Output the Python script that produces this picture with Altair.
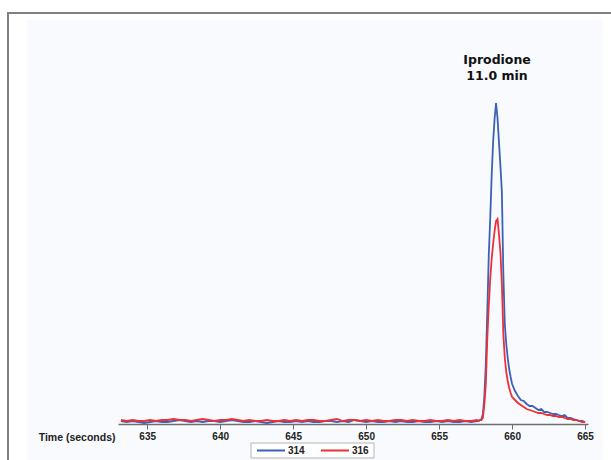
import altair as alt
import pandas as pd

# ---- data ----
time_s = [
    633.2, 633.6, 634.0, 634.4, 634.8, 635.2, 635.6, 636.0, 636.4, 636.8,
    637.2, 637.6, 638.0, 638.4, 638.8, 639.2, 639.6, 640.0, 640.4, 640.8,
    641.2, 641.6, 642.0, 642.4, 642.8, 643.2, 643.6, 644.0, 644.4, 644.8,
    645.2, 645.6, 646.0, 646.4, 646.8, 647.2, 647.6, 648.0, 648.4, 648.8,
    649.2, 649.6, 650.0, 650.4, 650.8, 651.2, 651.6, 652.0, 652.4, 652.8,
    653.2, 653.6, 654.0, 654.4, 654.8, 655.2, 655.6, 656.0, 656.4, 656.8,
    657.2, 657.6,
    657.7, 657.8, 657.9, 658.0, 658.1, 658.2, 658.3, 658.4, 658.5, 658.6,
    658.7, 658.8, 658.9, 659.0, 659.1, 659.2, 659.3, 659.4, 659.5, 659.6,
    659.7, 659.8, 659.9, 660.0,
    660.2, 660.4, 660.6, 660.8, 661.0, 661.2, 661.4, 661.6, 661.8, 662.0,
    662.2, 662.4, 662.6, 662.8, 663.0, 663.2, 663.4, 663.6, 663.8, 664.0,
    664.2, 664.4, 664.6, 664.8, 665.0,
]

signal_314 = [
    3, 2, 3, 2, 1, 2, 3, 2, 2, 3,
    4, 3, 2, 3, 2, 3, 3, 2, 3, 4,
    3, 2, 2, 3, 2, 1, 2, 3, 2, 2,
    3, 2, 3, 2, 2, 3, 3, 2, 3, 2,
    4, 3, 2, 3, 2, 2, 3, 2, 3, 2,
    2, 3, 2, 2, 3, 2, 3, 2, 2, 3,
    2, 3,
    3, 4, 5, 10, 28, 60, 112, 168, 205, 248,
    282, 305, 321, 306, 282, 258, 232, 150, 100, 80,
    66, 55, 47, 40,
    33, 28, 24, 23, 20, 18, 18, 16, 14, 15,
    12, 12, 11, 10, 10, 9, 8, 9, 6, 6,
    5, 4, 3, 3, 2,
]

signal_316 = [
    4, 3, 4, 3, 3, 4, 3, 4, 4, 5,
    4, 4, 3, 4, 5, 4, 3, 4, 4, 5,
    4, 3, 4, 3, 3, 4, 3, 3, 4, 3,
    4, 3, 4, 4, 3, 3, 4, 5, 3, 4,
    4, 3, 4, 3, 4, 3, 3, 4, 4, 3,
    4, 3, 3, 4, 3, 3, 4, 3, 4, 3,
    3, 4,
    3, 4, 4, 6, 20, 40, 85, 118, 145, 165,
    180, 193, 203, 205, 190, 172, 140, 90, 66, 52,
    43, 36, 31, 27,
    24, 21, 19, 17, 15, 14, 13, 12, 11, 11,
    10, 9, 9, 8, 8, 7, 7, 6, 5, 5,
    4, 4, 3, 2, 2,
]

series_names = ["314", "316"]
series_colors = ["#3a62b8", "#ee3036"]
x_ticks = [635, 640, 645, 650, 655, 660, 665]
x_domain = [633.0, 665.2]
y_domain = [0, 404]

peak_label = ["Iprodione", "11.0 min"]
peak_label_time = 658.97
peak_label_height = 364

n = len(time_s)
df = pd.DataFrame({
    "time": time_s + time_s,
    "signal": signal_314 + signal_316,
    "ion": [series_names[0]] * n + [series_names[1]] * n,
})

x_scale = alt.Scale(domain=x_domain, nice=False, zero=False)
y_scale = alt.Scale(domain=y_domain, nice=False, zero=False)

one = alt.Data(values=[{}])

# background frame of the original figure
panel = alt.Chart(one).mark_rect(fill="#f9fafd", clip=False).encode(
    x=alt.value(-91), x2=alt.value(485), y=alt.value(0), y2=alt.value(460)
)
border = alt.Chart(one).mark_rect(
    filled=False, stroke="#808080", strokeWidth=2, clip=False
).encode(
    x=alt.value(-110), x2=alt.value(520), y=alt.value(-7), y2=alt.value(480)
)

lines = alt.Chart(df).mark_line(strokeWidth=1.8, clip=False).encode(
    x=alt.X(
        "time:Q",
        scale=x_scale,
        axis=alt.Axis(
            values=x_ticks,
            format="d",
            title="Time (seconds)",
            grid=False,
            zindex=1,
            domainColor="#6e6e6e",
            domainWidth=1.5,
            tickColor="#6e6e6e",
            tickSize=5,
            labelFont="Liberation Sans",
            labelFontWeight="bold",
            labelFontSize=10,
            labelColor="#222222",
            labelPadding=2,
            titleFont="Liberation Sans",
            titleFontWeight="bold",
            titleFontSize=10.5,
            titleColor="#222222",
            titleAlign="right",
            titleBaseline="middle",
            titleX=-3,
            titleY=13,
        ),
    ),
    y=alt.Y("signal:Q", scale=y_scale, axis=None),
    color=alt.Color(
        "ion:N",
        scale=alt.Scale(domain=series_names, range=series_colors),
        legend=None,
    ),
)

label = alt.Chart(one).mark_text(
    text=peak_label,
    font="DejaVu Sans",
    fontWeight="bold",
    fontSize=12.5,
    lineHeight=16,
    align="center",
    baseline="middle",
    color="#111111",
).encode(x=alt.datum(peak_label_time), y=alt.datum(peak_label_height))

# legend box below the axis (drawn as marks so the entries stay short)
leg_box = alt.Chart(one).mark_rect(
    fill="white", stroke="#b5b5b5", strokeWidth=1, clip=False
).encode(x=alt.value(133), x2=alt.value(256), y=alt.value(423), y2=alt.value(438))

legend_layers = []
leg_line_x = [139, 203]
for name, color, lx in zip(series_names, series_colors, leg_line_x):
    legend_layers.append(
        alt.Chart(one).mark_rule(color=color, strokeWidth=2, clip=False).encode(
            x=alt.value(lx), x2=alt.value(lx + 28), y=alt.value(430.5)
        )
    )
    legend_layers.append(
        alt.Chart(one).mark_text(
            text=name,
            font="Liberation Sans",
            fontWeight="bold",
            fontSize=10,
            align="left",
            baseline="middle",
            color="#222222",
            clip=False,
        ).encode(x=alt.value(lx + 31), y=alt.value(430.5))
    )

chart = alt.layer(panel, border, lines, label, leg_box, *legend_layers).properties(
    width=470,
    height=404,
    autosize=alt.AutoSizeParams(type="none"),
    padding={"left": 118, "top": 20, "right": 23, "bottom": 36},
    background="white",
).configure_view(stroke=None)

chart.save("out.html", embed_options={"renderer": "svg", "actions": False})
